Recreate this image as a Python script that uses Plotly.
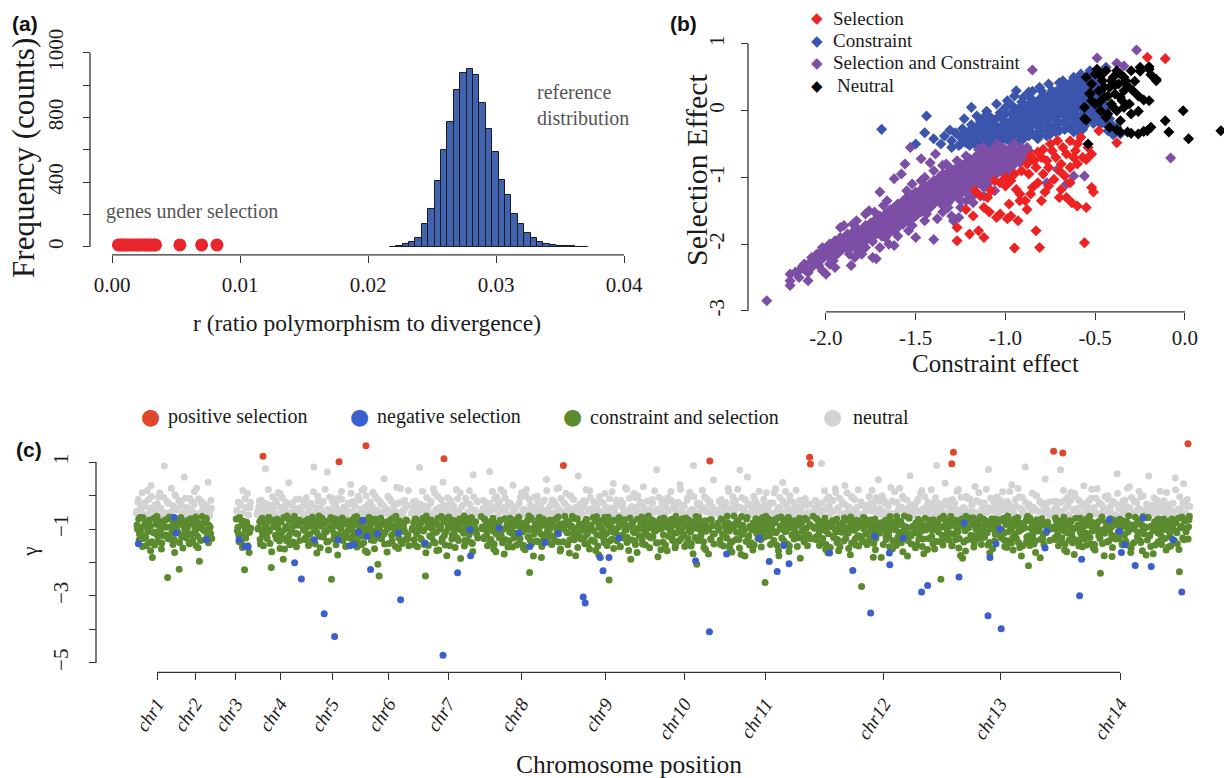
import plotly.graph_objects as go

W, H = 1224, 778
# positions below are given in target pixels; the vertical mapping compensates the
# small vertical offset/scale observed in the rendered page
def fx(p): return p / W
def fy(p): return 1 - ((p - 11) / 0.98) / H

SERIF = "Liberation Serif"
SANS = "Liberation Sans"

# ---------------- Panel (a) data ----------------
bin_left = [0.0217, 0.0222, 0.0227, 0.0232, 0.0237, 0.0242, 0.0247, 0.0252, 0.0257, 0.0262,
            0.0267, 0.0272, 0.0277, 0.0282, 0.0287, 0.0292, 0.0297, 0.0302, 0.0307, 0.0312,
            0.0317, 0.0322, 0.0327, 0.0332, 0.0337, 0.0342, 0.0347, 0.0352, 0.0357, 0.0362, 0.0367]
bin_counts = [2, 3, 18, 29, 56, 140, 237, 406, 597, 775, 968, 1079, 1100, 1065, 890, 731, 585,
              412, 321, 206, 140, 89, 52, 33, 19, 12, 7, 4, 3, 2, 1]
bin_width = 0.0005
sel_r = [0.0005, 0.0007, 0.0008, 0.0010, 0.0012, 0.0013, 0.0015, 0.0017, 0.0019, 0.0020, 0.0022,
         0.0024, 0.0026, 0.0027, 0.0029, 0.0031, 0.0033, 0.0034, 0.0053, 0.0070, 0.0082]
sel_freq = [12] * len(sel_r)
a_xticks = [0, 0.01, 0.02, 0.03, 0.04]
a_xtext = ["0.00", "0.01", "0.02", "0.03", "0.04"]
a_yticks = [0, 200, 400, 600, 800, 1000, 1200]
a_ytext = ["0", "", "400", "", "800", "", "1000"]

# ---------------- Panel (b) data ----------------
pts_selection = [(-0.21, 0.80), (-0.11, 0.78), (-0.38, -0.48), (-0.48, -0.30), (-0.52, -0.65), (-0.55, -0.73),
    (-0.52, -1.15), (-0.51, -1.22), (-0.55, -1.45), (-0.60, -1.43), (-0.63, -1.38), (-0.66, -1.30), (-0.70, -1.30),
    (-0.56, -1.98), (-0.81, -2.05), (-0.95, -2.06), (-0.83, -1.80), (-0.93, -1.65), (-0.97, -1.58), (-1.03, -1.55),
    (-1.05, -1.60), (-1.12, -1.90), (-1.15, -1.80), (-1.20, -1.85), (-1.27, -1.95), (-1.27, -1.75), (-1.18, -1.58),
    (-1.12, -1.45), (-1.22, -1.48), (-1.17, -1.20), (-1.14, -1.28), (-1.10, -1.30), (-1.08, -1.20), (-1.03, -1.08),
    (-1.00, -1.13), (-0.97, -1.05), (-0.94, -1.18), (-0.92, -1.25), (-0.89, -1.35), (-0.88, -1.48), (-0.92, -1.35),
    (-0.85, -1.15), (-0.82, -1.08), (-0.79, -0.95), (-0.76, -0.85), (-0.91, -0.90), (-0.88, -0.80), (-0.84, -0.75),
    (-0.80, -0.70), (-0.74, -0.60), (-0.72, -0.70), (-0.70, -0.90), (-0.67, -0.98), (-0.64, -1.08), (-0.73, -1.03),
    (-0.76, -1.13), (-0.80, -1.35), (-0.68, -0.55), (-0.64, -0.45), (-0.60, -0.50), (-0.58, -0.40), (-0.66, -0.65),
    (-0.62, -0.70), (-0.60, -0.80), (-0.57, -0.70), (-0.71, -0.45), (-0.75, -0.50), (-0.79, -0.58), (-0.83, -0.85),
    (-1.00, -1.00), (-1.06, -1.05), (-0.87, -0.95), (-0.64, -0.85), (-0.95, -0.95), (-0.86, -1.25), (-0.78, -1.22),
    (-0.69, -1.18), (-0.98, -1.40), (-1.09, -1.52), (-0.99, -1.62), (-0.61, -0.60), (-0.69, -0.80), (-0.54, -0.55),
    (-0.82, -0.62), (-0.77, -0.75), (-0.86, -0.68)]

pts_constraint = [(-1.69, -0.28), (-1.44, -0.08), (-1.40, -0.42), (-1.31, -0.29), (-1.19, 0.05), (-1.105, -0.01),
    (-0.94, 0.30), (-0.85, 0.29), (-0.53, 0.60), (-0.44, 0.65), (-0.38, -0.25), (-0.70, 0.42), (-0.62, 0.50),
    (-1.30, -0.45), (-1.30, -0.55), (-1.25, -0.40), (-1.25, -0.50), (-1.22, -0.35), (-1.22, -0.48),
    (-1.20, -0.30), (-1.20, -0.42), (-1.20, -0.52), (-1.17, -0.28), (-1.17, -0.40), (-1.17, -0.50),
    (-1.15, -0.22), (-1.15, -0.35), (-1.15, -0.47), (-1.12, -0.20), (-1.12, -0.32), (-1.12, -0.44), (-1.12, -0.10),
    (-1.10, -0.18), (-1.10, -0.30), (-1.10, -0.42), (-1.10, -0.52), (-1.07, -0.15), (-1.07, -0.27), (-1.07, -0.38),
    (-1.07, -0.50), (-1.05, -0.12), (-1.05, -0.24), (-1.05, -0.35), (-1.05, -0.46), (-1.02, -0.10), (-1.02, -0.22),
    (-1.02, -0.32), (-1.02, -0.44), (-1.00, -0.05), (-1.00, -0.18), (-1.00, -0.30), (-1.00, -0.42), (-1.00, 0.05),
    (-0.97, -0.04), (-0.97, -0.15), (-0.97, -0.27), (-0.97, -0.38), (-0.97, -0.48), (-0.95, 0.00), (-0.95, -0.12),
    (-0.95, -0.24), (-0.95, -0.35), (-0.95, -0.46), (-0.92, 0.05), (-0.92, -0.08), (-0.92, -0.20), (-0.92, -0.32),
    (-0.92, -0.44), (-0.90, 0.08), (-0.90, -0.05), (-0.90, -0.17), (-0.90, -0.30), (-0.90, -0.42), (-0.90, 0.20),
    (-0.87, 0.10), (-0.87, -0.02), (-0.87, -0.14), (-0.87, -0.26), (-0.87, -0.38), (-0.85, 0.14), (-0.85, 0.02),
    (-0.85, -0.10), (-0.85, -0.22), (-0.85, -0.35), (-0.82, 0.15), (-0.82, 0.04), (-0.82, -0.08), (-0.82, -0.20),
    (-0.82, -0.32), (-0.82, -0.42), (-0.80, 0.18), (-0.80, 0.06), (-0.80, -0.05), (-0.80, -0.17), (-0.80, -0.29),
    (-0.80, 0.30), (-0.77, 0.20), (-0.77, 0.08), (-0.77, -0.03), (-0.77, -0.15), (-0.77, -0.27), (-0.77, -0.38),
    (-0.75, 0.25), (-0.75, 0.12), (-0.75, 0.00), (-0.75, -0.12), (-0.75, -0.24), (-0.75, -0.35), (-0.72, 0.28),
    (-0.72, 0.15), (-0.72, 0.03), (-0.72, -0.09), (-0.72, -0.21), (-0.72, -0.32), (-0.70, 0.30), (-0.70, 0.18),
    (-0.70, 0.06), (-0.70, -0.06), (-0.70, -0.18), (-0.70, -0.30), (-0.67, 0.32), (-0.67, 0.20), (-0.67, 0.08),
    (-0.67, -0.04), (-0.67, -0.16), (-0.67, -0.28), (-0.65, 0.35), (-0.65, 0.23), (-0.65, 0.11), (-0.65, -0.01),
    (-0.65, -0.13), (-0.65, -0.25), (-0.62, 0.38), (-0.62, 0.26), (-0.62, 0.14), (-0.62, 0.02), (-0.62, -0.10),
    (-0.62, -0.22), (-0.62, -0.32), (-0.60, 0.40), (-0.60, 0.28), (-0.60, 0.16), (-0.60, 0.04), (-0.60, -0.08),
    (-0.60, -0.20), (-0.60, -0.30), (-0.57, 0.42), (-0.57, 0.30), (-0.57, 0.18), (-0.57, 0.06), (-0.57, -0.06),
    (-0.57, -0.18), (-0.57, -0.28), (-0.55, 0.45), (-0.55, 0.32), (-0.55, 0.20), (-0.55, 0.08), (-0.55, -0.04),
    (-0.55, -0.16), (-0.52, 0.48), (-0.52, 0.35), (-0.52, 0.22), (-0.52, 0.10), (-0.52, -0.02), (-0.52, -0.14),
    (-0.50, 0.40), (-0.50, 0.25), (-0.50, 0.12), (-0.50, 0.00), (-0.50, -0.12), (-0.47, 0.30), (-0.47, 0.15),
    (-0.47, 0.02), (-0.47, -0.10), (-0.47, -0.20), (-0.45, 0.10), (-0.45, -0.05), (-0.45, -0.18), (-0.42, -0.12),
    (-0.42, -0.22), (-0.40, -0.28), (-0.40, -0.36),
    (-1.28, -0.33), (-1.26, -0.52), (-1.24, -0.27), (-1.21, -0.44), (-1.19, -0.21), (-1.18, -0.37), (-1.16, -0.49),
    (-1.14, -0.16), (-1.13, -0.27), (-1.11, -0.39), (-1.09, -0.08), (-1.08, -0.22), (-1.06, -0.33), (-1.04, -0.43),
    (-1.03, -0.03), (-1.01, -0.14), (-0.99, -0.26), (-0.98, -0.37), (-0.96, 0.07), (-0.96, -0.45), (-0.94, -0.07),
    (-0.93, -0.18), (-0.93, -0.29), (-0.91, -0.39), (-0.91, 0.13), (-0.89, 0.02), (-0.88, -0.10), (-0.88, -0.21),
    (-0.86, -0.33), (-0.86, 0.19), (-0.84, 0.07), (-0.83, -0.04), (-0.83, -0.15), (-0.81, -0.26), (-0.81, -0.37),
    (-0.79, 0.23), (-0.79, 0.11), (-0.78, 0.00), (-0.78, -0.11), (-0.76, -0.22), (-0.76, -0.31), (-0.74, 0.30),
    (-0.74, 0.18), (-0.73, 0.06), (-0.73, -0.05), (-0.71, -0.16), (-0.71, -0.27), (-0.69, 0.36), (-0.69, 0.24),
    (-0.68, 0.12), (-0.68, 0.00), (-0.66, -0.10), (-0.66, -0.22), (-0.64, 0.41), (-0.64, 0.29), (-0.63, 0.17),
    (-0.63, 0.06), (-0.61, -0.05), (-0.61, -0.16), (-0.61, -0.27), (-0.59, 0.45), (-0.59, 0.33), (-0.58, 0.22),
    (-0.58, 0.10), (-0.56, -0.01), (-0.56, -0.12), (-0.56, -0.23), (-0.54, 0.39), (-0.54, 0.27), (-0.53, 0.15),
    (-0.53, 0.03), (-0.51, -0.08), (-0.51, -0.19), (-0.49, 0.33), (-0.49, 0.19), (-0.48, 0.06), (-0.48, -0.05),
    (-0.46, -0.15), (-0.46, 0.24), (-0.44, 0.02), (-0.43, -0.17), (-0.41, -0.20), (-0.39, -0.31), (-1.34, -0.38),
    (-1.36, -0.50), (-1.23, -0.12), (-1.05, 0.10), (-0.99, 0.15), (-0.87, 0.28), (-0.76, 0.40), (-0.68, 0.45),
    (-0.58, 0.55), (-0.50, 0.52), (-0.47, 0.45), (-0.41, 0.38), (-0.43, -0.30), (-0.36, -0.35), (-1.50, -0.50),
    (-1.16, -0.08), (-1.45, -0.33), (-0.81, 0.35), (-0.95, 0.22)]

pts_sel_con = [(-2.33, -2.85), (-0.85, 0.61), (-0.49, 0.79), (-0.27, 0.91), (-0.38, 0.71), (-0.34, 0.67),
    (-0.08, -0.71), (-0.56, -0.98), (-0.62, -0.98), (-0.77, -1.08), (-0.66, -1.10), (-0.71, -0.88),
    (-1.40, -1.93), (-1.53, -0.55), (-1.54, -1.80), (-1.74, -2.20), (-1.83, -1.65), (-1.76, -1.50),
    (-1.58, -0.95), (-1.39, -0.65), (-1.26, -1.60), (-1.29, -1.65),
    (-2.20, -2.45), (-2.20, -2.55), (-2.20, -2.62), (-2.15, -2.40), (-2.15, -2.50), (-2.12, -2.38), (-2.12, -2.30),
    (-2.08, -2.25), (-2.08, -2.35), (-2.08, -2.20), (-2.05, -2.15), (-2.05, -2.28), (-2.02, -2.10), (-2.02, -2.22),
    (-2.02, -2.05), (-1.98, -2.00), (-1.98, -2.12), (-1.98, -2.30), (-1.95, -1.95), (-1.95, -2.05), (-1.95, -2.18),
    (-1.92, -1.90), (-1.92, -2.02), (-1.92, -2.10), (-1.88, -1.85), (-1.88, -1.98), (-1.88, -2.08), (-1.85, -1.82),
    (-1.85, -1.92), (-1.85, -2.02), (-1.85, -1.70), (-1.82, -1.78), (-1.82, -1.88), (-1.82, -1.98), (-1.78, -1.72),
    (-1.78, -1.85), (-1.78, -1.95), (-1.78, -2.05), (-1.75, -1.68), (-1.75, -1.80), (-1.75, -1.90), (-1.72, -1.62),
    (-1.72, -1.75), (-1.72, -1.85), (-1.72, -2.22), (-1.70, -1.58), (-1.70, -1.70), (-1.70, -1.82), (-1.67, -1.55),
    (-1.67, -1.65), (-1.67, -1.78), (-1.67, -1.90), (-1.64, -1.48), (-1.64, -1.60), (-1.64, -1.72), (-1.62, -1.45),
    (-1.62, -1.55), (-1.62, -1.68), (-1.62, -1.80), (-1.60, -1.40), (-1.60, -1.52), (-1.60, -1.62), (-1.60, -1.75),
    (-1.57, -1.35), (-1.57, -1.48), (-1.57, -1.58), (-1.57, -1.70), (-1.55, -1.30), (-1.55, -1.42), (-1.55, -1.55),
    (-1.55, -1.65), (-1.52, -1.28), (-1.52, -1.38), (-1.52, -1.50), (-1.52, -1.62), (-1.52, -1.10), (-1.50, -1.22),
    (-1.50, -1.35), (-1.50, -1.45), (-1.50, -1.58), (-1.47, -1.18), (-1.47, -1.30), (-1.47, -1.42), (-1.47, -1.52),
    (-1.45, -1.12), (-1.45, -1.25), (-1.45, -1.38), (-1.45, -1.50), (-1.45, -1.00), (-1.42, -1.10), (-1.42, -1.20),
    (-1.42, -1.32), (-1.42, -1.45), (-1.40, -1.05), (-1.40, -1.15), (-1.40, -1.28), (-1.40, -1.40), (-1.40, -0.90),
    (-1.37, -1.00), (-1.37, -1.12), (-1.37, -1.22), (-1.37, -1.35), (-1.35, -0.95), (-1.35, -1.08), (-1.35, -1.18),
    (-1.35, -1.30), (-1.35, -1.42), (-1.32, -0.92), (-1.32, -1.02), (-1.32, -1.15), (-1.32, -1.25), (-1.32, -1.38),
    (-1.30, -0.88), (-1.30, -0.98), (-1.30, -1.10), (-1.30, -1.20), (-1.30, -1.32), (-1.27, -0.85), (-1.27, -0.95),
    (-1.27, -1.05), (-1.27, -1.15), (-1.27, -1.28), (-1.27, -0.75), (-1.25, -0.80), (-1.25, -0.92), (-1.25, -1.02),
    (-1.25, -1.12), (-1.25, -1.25), (-1.22, -0.78), (-1.22, -0.88), (-1.22, -0.98), (-1.22, -1.08), (-1.22, -1.20),
    (-1.22, -1.35), (-1.20, -0.72), (-1.20, -0.82), (-1.20, -0.95), (-1.20, -1.05), (-1.20, -1.15), (-1.17, -0.70),
    (-1.17, -0.80), (-1.17, -0.90), (-1.17, -1.00), (-1.17, -1.12), (-1.17, -1.25), (-1.15, -0.65), (-1.15, -0.76),
    (-1.15, -0.86), (-1.15, -0.96), (-1.15, -1.08), (-1.12, -0.62), (-1.12, -0.72), (-1.12, -0.82), (-1.12, -0.92),
    (-1.12, -1.02), (-1.12, -1.15), (-1.10, -0.60), (-1.10, -0.70), (-1.10, -0.80), (-1.10, -0.90), (-1.10, -1.00),
    (-1.07, -0.58), (-1.07, -0.68), (-1.07, -0.78), (-1.07, -0.88), (-1.07, -0.98), (-1.05, -0.55), (-1.05, -0.65),
    (-1.05, -0.75), (-1.05, -0.85), (-1.05, -0.95), (-1.02, -0.55), (-1.02, -0.64), (-1.02, -0.72), (-1.02, -0.82),
    (-1.02, -0.92), (-1.00, -0.58), (-1.00, -0.68), (-1.00, -0.78), (-1.00, -0.88), (-0.97, -0.56), (-0.97, -0.66),
    (-0.97, -0.75), (-0.97, -0.85), (-0.95, -0.60), (-0.95, -0.70), (-0.95, -0.80), (-0.92, -0.58), (-0.92, -0.68),
    (-0.92, -0.78), (-0.90, -0.62), (-0.90, -0.72), (-0.87, -0.60), (-0.87, -0.70),
    (-2.17, -2.42), (-2.13, -2.33), (-2.10, -2.43), (-2.06, -2.18), (-2.04, -2.32), (-2.00, -2.06), (-1.99, -2.18),
    (-1.96, -2.25), (-1.94, -1.99), (-1.93, -2.13), (-1.90, -1.93), (-1.89, -2.04), (-1.87, -2.15), (-1.86, -1.88),
    (-1.84, -1.97), (-1.83, -2.08), (-1.80, -1.80), (-1.80, -1.93), (-1.79, -2.02), (-1.77, -1.76), (-1.76, -1.86),
    (-1.74, -1.96), (-1.73, -1.69), (-1.71, -1.79), (-1.69, -1.64), (-1.69, -1.88), (-1.68, -1.73), (-1.66, -1.59),
    (-1.65, -1.84), (-1.63, -1.52), (-1.63, -1.66), (-1.61, -1.77), (-1.59, -1.47), (-1.58, -1.57), (-1.58, -1.66),
    (-1.56, -1.38), (-1.56, -1.51), (-1.54, -1.61), (-1.53, -1.33), (-1.53, -1.45), (-1.51, -1.55), (-1.49, -1.28),
    (-1.49, -1.40), (-1.48, -1.50), (-1.46, -1.23), (-1.46, -1.34), (-1.44, -1.45), (-1.43, -1.16), (-1.43, -1.28),
    (-1.41, -1.38), (-1.39, -1.10), (-1.39, -1.22), (-1.38, -1.33), (-1.36, -1.04), (-1.36, -1.16), (-1.34, -1.27),
    (-1.33, -0.97), (-1.33, -1.09), (-1.31, -1.20), (-1.29, -0.93), (-1.29, -1.04), (-1.28, -1.14), (-1.26, -0.88),
    (-1.26, -0.99), (-1.24, -1.09), (-1.23, -0.83), (-1.23, -0.93), (-1.21, -1.03), (-1.19, -0.77), (-1.19, -0.88),
    (-1.18, -0.98), (-1.16, -0.72), (-1.16, -0.82), (-1.14, -0.92), (-1.13, -0.67), (-1.13, -0.77), (-1.11, -0.87),
    (-1.09, -0.64), (-1.09, -0.75), (-1.08, -0.85), (-1.06, -0.61), (-1.06, -0.71), (-1.04, -0.80), (-1.03, -0.59),
    (-1.03, -0.68), (-1.01, -0.76), (-0.99, -0.62), (-0.98, -0.71), (-0.96, -0.58), (-0.96, -0.66), (-0.94, -0.74),
    (-0.93, -0.62), (-0.91, -0.56), (-0.89, -0.66), (-0.88, -0.55), (-1.25, -1.35), (-1.32, -1.45), (-1.45, -1.65),
    (-1.60, -1.88), (-1.66, -1.35), (-1.47, -1.05), (-1.35, -0.82), (-1.20, -1.28), (-1.10, -1.10), (-0.98, -0.92),
    (-1.70, -2.05), (-1.84, -2.20), (-2.02, -2.40), (-1.92, -1.75), (-1.12, -0.55), (-1.05, -0.50), (-0.95, -0.50),
    (-1.62, -1.02), (-1.70, -1.22), (-1.47, -0.72), (-1.56, -0.80), (-1.42, -0.78), (-1.38, -1.62), (-1.30, -1.58),
    (-1.50, -1.90), (-1.62, -2.02), (-1.86, -2.32), (-2.00, -2.45), (-1.78, -1.55), (-1.68, -1.42), (-1.52, -1.72),
    (-1.44, -1.55), (-1.35, -1.52), (-1.25, -1.45), (-1.18, -1.38), (-1.12, -1.28), (-1.06, -1.20), (-1.65, -2.00),
    (-1.80, -2.15), (-1.95, -2.35), (-2.10, -2.55), (-1.90, -1.72), (-1.73, -1.52), (-1.55, -1.20), (-1.33, -0.80),
    (-1.22, -0.68), (-1.15, -0.58)]

pts_neutral = [(-0.55, 0.50), (-0.52, 0.40), (-0.50, 0.55), (-0.48, 0.30), (-0.46, 0.45), (-0.45, 0.20),
    (-0.44, 0.60), (-0.42, 0.35), (-0.41, 0.10), (-0.40, 0.50), (-0.39, 0.25), (-0.38, 0.00), (-0.37, 0.40),
    (-0.36, 0.55), (-0.35, 0.15), (-0.34, 0.30), (-0.50, 0.10), (-0.47, 0.00), (-0.53, 0.25), (-0.56, 0.05),
    (-0.43, -0.05), (-0.38, 0.60), (-0.33, 0.45), (-0.31, 0.10), (-0.29, 0.30), (-0.45, 0.35), (-0.49, 0.62),
    (-0.41, 0.45), (-0.36, 0.20), (-0.52, 0.15), (-0.30, 0.60), (-0.25, 0.65), (-0.20, 0.62), (-0.16, 0.45),
    (-0.20, 0.15), (-0.26, 0.22), (-0.32, 0.37), (-0.34, 0.05), (-0.36, -0.15), (-0.32, -0.32), (-0.26, -0.35),
    (-0.21, -0.30), (-0.19, -0.25), (-0.36, -0.32), (-0.01, 0.00), (-0.11, -0.15), (-0.09, -0.32), (0.02, -0.42),
    (0.20, -0.30), (-0.44, -0.10), (-0.56, -0.12), (-0.54, -0.50), (-0.42, -0.25), (-0.30, -0.05), (-0.19, 0.54),
    (-0.16, 0.47), (-0.20, 0.66), (-0.25, 0.59), (-0.23, 0.16), (-0.26, -0.01), (-0.38, -0.29), (-0.30, -0.34),
    (-0.23, -0.31), (-0.55, -0.14), (-0.53, 0.26), (-0.47, 0.52), (-0.43, 0.22), (-0.40, 0.05), (-0.39, 0.38),
    (-0.34, 0.50), (-0.28, 0.44), (-0.48, 0.12)]
b_xticks = [-2.0, -1.5, -1.0, -0.5, 0.0]
b_xtext = ["-2.0", "-1.5", "-1.0", "-0.5", "0.0"]
b_yticks = [-3, -2, -1, 0, 1]
b_ytext = ["-3", "-2", "-1", "0", "1"]

# ---------------- Panel (c) data ----------------
chr_names = ["chr1", "chr2", "chr3", "chr4", "chr5", "chr6", "chr7", "chr8", "chr9", "chr10",
             "chr11", "chr12", "chr13", "chr14"]
chr_pos = [0, 190, 393, 615, 875, 1158, 1455, 1822, 2243, 2636, 3043, 3633, 4215, 4815]
seg_bounds = [(-105, 275), (395, 470), (500, 715), (725, 1260), (1270, 1605),
              (1620, 2790), (2800, 3270), (3280, 4465), (4475, 5165)]
# gamma x100 per gene, two interleaved gene sets (a/b) per genome segment
seg1a = [-52, -88, -20, -70, -115, -41, -97, 8, -66, -128, -33, -81, -150, -57, -104, -12, -74, -92, 30, -138,
         -46, -68, -109, -27, -85, -62, -121, -5, -77, -99, -38, -142, -54, -90, 88, -73, -118, -60, -245, -23,
         -64, -94, -49, -112, -30, -79, -131, 2, -70, -101, -43, -87, -220, -16, -66, -124, -56, -83, 55, -108,
         -36, -75, -96, -58, -140, -9, -69, -117, -47, -86, -26, -103, -64, 22, -79, -156, -53, -92, -134, -18,
         -63, -83, -44, -106, -31, -72, -127, 40, -89, -60, -113, -39]
seg1b = [-47, -100, -12, -133, -66, -30, -116, -152, -56, -90, -21, -125, -78, 15, -108, -142, -38, -165, -3, -185,
         -35, -112, -148, -44, -86, -25, -137, -82, 8, -104, -160, -58, -120, -6, -92, -52, -95, -18, -128, -70,
         -130, -69, 22, -102, -146, -33, -170, -1, -88, -41, -110, -15, -140, -74, -28, -119, -157, -50, -96, -8,
         -126, -80, -37, -114, -144, -45, -84, -17, -136, -72, 12, -106, -150, -60, -122, -10, -196, -55, -98, -23,
         -39, -103, -26, -132, -68, -31, -118, -141, -53, -94, -14, -128]
seg2a = [-70, -48, -95, -118, -66, -25, -140, -85, 15, -77, -222, -102, -36, -88, -150, -58, -110, -20]
seg2b = [-44, -105, -20, -138, -71, -30, -118, -155, -52, -92, -9, -127, -80, 6, -110, -170, -36, -98]
seg3a = [-57, -100, -35, -78, -145, -14, -68, -110, -48, -94, 80, -84, -129, -42, -65, -102, -29, -215, -59, -74,
         -40, -88, -119, -21, -71, -97, -55, -136, 5, -80, -108, -45, -66, -160, -34, -93, -61, -126, 38, -76,
         -50, -107, -28, -69, -90, -62, -148, -11, -82, -115, -38, -73]
seg3b = [-49, -97, -16, -131, -73, -33, -115, -150, -55, -88, -24, -123, -79, 18, -107, -143, -40, -168, -4, -93,
         -58, -85, -13, -129, -76, 9, -111, -158, -35, -124, -7, -190, -46, -101, -19, -135, -67, -27, -120, -147,
         -51, -96, -22, -139, -70, -42, -113, -153, -48, -89, -11, -134]
seg4a = [-33, -79, -104, -59, -132, -6, -95, -71, -47, -116, -25, -84, -64, -141, 85, -98, -54, -76, -112, -17,
         -61, -92, -37, -123, -68, -19, -86, -105, -50, -77, 70, -137, -42, -96, -66, -250, -8, -81, -113, -30,
         -55, -90, -15, -72, -118, -44, -99, 12, -67, -130, -36, -85, -152, -58, -107, -22, -76, -94, 33, -125,
         -48, -70, -111, -31, -88, -63, -139, -3, -80, -101, -41, -147, -56, -93, 20, -74, -121, -59, -170, -26,
         -65, -97, -46, -114, -34, -83, -134, 0, -71, -103, -45, -89, -240, -18, -68, -127, -53, -86, 50, -110,
         -39, -78, -99, -57, -143, -11, -72, -119, -49, -91, -28, -106, -62, 25, -82, -158, -51, -95, -136, -20,
         -60, -87, -43, -109, -32, -75, -130, 15]
seg4b = [-54, -99, -15, -127, -75, -32, -117, -149, -43, -91, -23, -136, -81, 11, -105, -144, -37, -172, -2, -87,
         -121, -156, -57, -84, -16, -124, -77, 19, -109, -139, -41, -163, -5, -95, -48, -102, -20, -130, -69, -29,
         -147, -39, -178, -8, -90, -52, -93, -11, -134, -72, -34, -114, -151, -46, -86, -26, -127, -83, 7, -103,
         -18, -138, -66, -31, -119, -154, -55, -89, -13, -122, -74, 16, -111, -141, -36, -166, -1, -97, -44, -106,
         -85, -19, -133, -71, 10, -107, -159, -59, -125, -9, -205, -50, -100, -24, -129, -79, -28, -116, -145, -42,
         -40, -169, -3, -92, -47, -94, -17, -135, -68, -35, -112, -152, -53, -88, -22, -126, -76, 21, -104, -143,
         -45, -98, -14, -131, -73, -30, -118, -150]
seg5a = [-54, -102, -37, -80, -147, -16, -70, -112, -50, -96, 84, -86, -131, -44, -67, -104, -31, -240, -61, -76,
         -42, -90, -121, -23, -73, -99, -57, -138, 7, -82, -110, -47, -68, -163, -36, -95, -63, -128, 40, -78,
         -52, -109, -30, -71, -92, -64, -150, -13, -84, -117, -40, -75, -101, -58, 17, -127, -89, -46, -69, -188,
         -35, -81, -106, -61, -134, -8, -97, -73, -49, -118, -27, -86, -66, -143, 62, -100, -56, -78, -114, -19]
seg5b = [-51, -97, -19, -132, -70, -33, -114, -153, -45, -90, -25, -128, -79, 13, -106, -146, -38, -171, -6, -94,
         -149, -56, -86, -17, -125, -82, 20, -110, -142, -42, -164, -2, -89, -49, -101, -12, -137, -67, -28, -120,
         -148, -36, -180, -7, -98, -53, -95, -22, -130, -74, -31, -116, -155, -47, -87, -10, -134, -72, 8, -103,
         -77, -29, -113, -151, -58, -91, -21, -136, -69, 14, -108, -140, -40, -167, -4, -93, -44, -104, -16, -127]
seg6a = [-63, -94, -39, -125, -70, -21, -88, -107, -52, -79, 72, -139, -44, -98, -68, -160, -10, -83, -115, -32,
         -57, -92, -17, -74, -120, -46, -101, 10, -69, -132, -38, -87, -154, -60, -109, -24, -78, -96, 31, -127,
         -50, -72, -113, -33, -90, -65, -141, -5, -82, -103, -43, -149, -58, -95, 18, -76, -123, -61, -230, -28,
         -67, -99, -48, -116, -36, -85, -136, -2, -73, -105, -47, -91, -185, -20, -70, -129, -55, -88, 48, -112,
         -41, -80, -101, -59, -145, -13, -74, -121, -51, -93, -30, -108, -64, 23, -84, -160, -53, -97, -138, -22,
         -62, -89, -45, -111, -34, -77, -132, -1, -91, -62, -115, -41, -100, -180, -53, -69, 58, -122, -26, -93,
         -56, -104, -35, -83, -144, -18, -71, -114, -48, -98, 14, -88, -133, -42, -66, -106, -29, -164, -63, -79,
         -44, -93, -119, -21, -75, -102, -55, -140, 6, -80, -112, -49, -65, -252, -37, -97, -60, -130, 36, -74,
         -54, -111, -27, -73, -95, -66, -152, -15, -86, -119, -39, -77, -103, -57, 19, -125, -91, -45, -67, -190,
         -33, -83, -108, -59, -136, -7, -99, -71, -51, -120, -25, -88, -64, -145, 26, -102, -58, -80, -116, -17,
         -61, -96, -41, -127, -72, -23, -90, -105, -50, -81, 77, -141, -46, -100, -70, -162, -12, -85, -117, -34,
         -59, -94, -19, -76, -122, -44, -103, 12, -71, -134, -36, -89, -156, -62, -111, -26, -80, -98, 33, -129,
         -48, -74, -115, -31, -92, -67, -143, -7, -84, -105, -45, -151, -56, -97, 90, -78, -125, -63, -205, -30,
         -65, -101, -50, -118, -34, -87, -138, -4, -75, -107, -49, -93, -175, -22, -72, -131, -57, -90, 46, -114]
seg6b = [-50, -99, -14, -129, -72, -32, -117, -150, -46, -88, -24, -131, -80, 12, -107, -145, -39, -168, -3, -91,
         -17, -126, -75, 18, -104, -141, -36, -175, -7, -97, -55, -94, -20, -136, -68, -27, -112, -154, -43, -85,
         -34, -119, -148, -57, -90, -22, -128, -83, 9, -109, -157, -41, -162, -1, -93, -48, -102, -11, -133, -71,
         -143, -38, -181, -5, -89, -52, -96, -16, -138, -65, -29, -115, -152, -44, -87, -13, -124, -78, 15, -102,
         -127, -74, -31, -121, -146, -54, -92, -19, -135, -70, 20, -106, -139, -42, -166, -9, -98, -47, -100, -23,
         -81, 7, -110, -147, -37, -172, -2, -94, -53, -95, -12, -132, -69, -35, -113, -155, -45, -86, -26, -130,
         -56, -89, -15, -125, -77, 17, -105, -144, -40, -160, -6, -90, -49, -103, -18, -137, -73, -28, -118, -151,
         -177, -4, -96, -51, -97, -21, -128, -66, -33, -114, -149, -42, -91, -10, -134, -82, 11, -108, -158, -39,
         -101, -13, -135, -75, -30, -120, -153, -58, -84, -23, -127, -72, 23, -103, -140, -43, -164, -8, -92, -46,
         -133, -79, 6, -111, -146, -35, -170, -1, -99, -54, -93, -19, -131, -70, -36, -116, -147, -47, -88, -16,
         -122, -156, -53, -90, -12, -123, -76, 14, -106, -142, -41, -183, -5, -95, -50, -98, -25, -139, -67, -27,
         -148, -38, -165, -7, -91, -45, -104, -15, -129, -73, -32, -113, -150, -44, -86, -20, -136, -80, 19, -104,
         -69, -29, -119, -152, -55, -92, -14, -128, -74, 10, -109, -143, -42, -174, -3, -97, -52, -96, -22, -134,
         -87, -24, -132, -78, 16, -102, -155, -37, -161, -9, -93, -48, -100, -17, -130, -72, -34, -115, -145, -49]
seg7a = [-44, -82, -103, -57, -146, -12, -73, -118, -49, -92, -28, -107, -62, 21, -86, -157, -52, -96, -137, -21,
         -61, -89, -43, -110, -33, -76, -131, 76, -90, -63, -116, -40, -101, -181, -52, -70, 55, -123, -25, -92,
         -58, -103, -36, -81, -148, -15, -69, -113, -51, -97, 13, -85, -132, -43, -66, -105, -30, -260, -62, -77,
         -43, -91, -120, -22, -74, -100, -56, -139, 8, -81, -111, -48, -67, -165, -35, -96, -64, -127, 39, -79,
         -51, -108, -29, -70, -93, -65, -151, -14, -85, -118, -41, -76, -102, -59, 16, -126, -88, -47, -68, -187,
         -34, -80, -107, -60, -135, -9, -98, -72, -50, -117, -26, -87]
seg7b = [-53, -97, -18, -133, -70, -31, -116, -151, -44, -90, -21, -127, -81, 13, -106, -144, -40, -169, -4, -94,
         -86, -15, -131, -75, 19, -110, -157, -36, -176, -7, -89, -47, -102, -12, -137, -66, -28, -121, -148, -56,
         -141, -43, -163, -2, -98, -50, -95, -24, -128, -73, -35, -114, -154, -45, -92, -11, -124, -79, 8, -103,
         -69, -30, -118, -146, -52, -85, -22, -134, -72, 21, -108, -149, -38, -180, -6, -91, -55, -101, -16, -135,
         -83, 12, -105, -145, -41, -167, -1, -95, -46, -96, -20, -130, -76, -33, -112, -152, -48, -88, -14, -126,
         -51, -99, -17, -138, -68, -29, -119, -150, -57, -91, -25, -129]
seg8a = [-62, -95, -38, -124, -69, -20, -87, -106, -53, -78, 96, -138, -45, -97, -67, -161, -11, -82, -114, -31,
         -56, -93, -16, -75, -121, -47, -100, 9, -70, -131, -37, -88, -153, -59, -110, -23, -79, -95, 30, -128,
         -51, -73, -112, -34, -91, -64, -142, -6, -81, -104, -42, -148, -57, -96, 17, -77, -122, -60, -272, -29,
         -66, -100, -49, -115, -37, -84, -137, -3, -74, -104, -46, -92, -184, -19, -71, -128, -56, -87, 47, -113,
         -40, -81, -100, -58, -146, -14, -75, -120, -52, -92, -31, -107, -63, 24, -85, -159, -54, -96, -139, -21,
         -63, -88, -44, -112, -35, -78, -133, -2, -90, -61, -116, -42, -99, -181, -54, -68, 59, -121, -27, -94,
         -57, -103, -36, -81, -146, -17, -71, -113, -49, -97, 15, -87, -130, -45, -68, -103, -32, -161, -60, -75,
         -43, -89, -122, -24, -72, -98, -58, -137, 90, -83, -109, -46, -69, -250, -37, -94, -62, -129, 37, -77,
         -53, -110, -31, -72, -91, -63, -149, -12, -83, -116, -41, -74, -100, -57, 18, -128, -88, -45, -70, -187,
         -36, -82, -105, -62, -133, -9, -96, -74, -48, -119, -28, -85, -67, -142, 27, -101, -55, -79, -113, -20,
         -64, -93, -40, -126, -71, -22, -89, -108, -51, -80, 78, -140, -43, -99, -69, -159, -9, -84, -116, -33,
         -58, -91, -18, -73, -119, -45, -102, 11, -68, -133, -39, -86, -155, -61, -108, -25, -77, -97, 32, -126,
         -49, -71, -114, -32, -89, -66, -140, -4, -83, -102, -44, -150, -59, -94, 85, -75, -124, -62, -210, -27,
         -68, -98, -47, -117, -35, -86, -135, -1, -72, -106, -48, -90, -186, -21, -69, -130, -54, -89, 49, -111,
         -42, -79, -102, -58]
seg8b = [-49, -98, -15, -132, -71, -33, -118, -149, -47, -89, -22, -128, -80, 14, -105, -146, -39, -171, -4, -92,
         -155, -44, -86, -14, -125, -76, 20, -109, -140, -37, -165, -8, -97, -54, -95, -21, -136, -67, -28, -113,
         8, -104, -158, -42, -177, -2, -90, -47, -101, -12, -129, -74, -35, -120, -151, -56, -91, -19, -133, -82,
         -138, -68, -30, -115, -147, -45, -88, -25, -127, -73, 16, -108, -143, -38, -162, -6, -96, -52, -97, -18,
         -41, -185, -1, -93, -50, -103, -23, -131, -72, -27, -122, -153, -53, -84, -16, -135, -79, 11, -102, -149,
         -20, -124, -77, 22, -110, -141, -36, -168, -9, -99, -46, -94, -13, -134, -66, -34, -116, -145, -48, -92,
         -31, -112, -156, -43, -87, -11, -130, -81, 6, -106, -152, -40, -174, -3, -91, -55, -100, -19, -128, -75,
         -74, 17, -103, -144, -35, -160, -7, -95, -48, -96, -24, -137, -69, -29, -119, -148, -57, -90, -17, -126,
         -102, -16, -133, -73, -36, -114, -150, -46, -85, -23, -132, -78, 13, -108, -157, -43, -179, -5, -92, -51,
         -139, -39, -166, -2, -98, -53, -95, -10, -130, -67, -28, -121, -154, -50, -89, -15, -129, -83, 9, -105,
         -117, -146, -54, -93, -26, -123, -75, 19, -111, -148, -37, -172, -8, -90, -45, -99, -22, -135, -71, -32,
         -4, -97, -49, -104, -14, -127, -76, -30, -113, -152, -44, -86, -18, -136, -80, 12, -102, -142, -41, -163,
         -58, -91, -12, -128, -72, 21, -107, -155, -38, -181, -6, -94, -52, -97, -20, -139, -68, -34, -120, -149,
         -133, -79, 7, -104, -145, -42, -170, -1, -93, -47, -101, -17, -131, -74, -27, -115, -147, -45, -88, -24,
         -50, -96, -19, -134]
seg9a = [-60, -94, -42, -126, -67, -18, -85, -104, -51, -76, 77, -136, -47, -95, -65, -163, -12, -81, -112, -29,
         -58, -91, -15, -77, -123, -45, -99, 7, -68, -133, -39, -89, -151, -57, -111, -22, -76, -94, 29, -130,
         -53, -71, -114, -35, -89, -62, -144, -8, -80, -106, -44, -146, -55, -98, 20, -79, -120, -58, -232, -27,
         -64, -102, -50, -113, -38, -82, -139, -1, -76, -102, -48, -94, -182, -17, -73, -126, -58, -85, 65, -115,
         -39, -83, -98, -60, -144, -16, -77, -118, -54, -90, -33, -109, -61, 26, -87, -157, -56, -94, -141, -19,
         -65, -86, -46, -110, -37, -76, -135, -4, -88, -63, -114, -44, -97, -178, -55, -66, 58, -119, -29, -92,
         -55, -105, -34, -79, -148, -19, -73, -111, -47, -99, 13, -85, -132, -43, -70, -101, -30, -163, -58, -77,
         -41, -87, -124, -26, -70, -96, -60, -135, 52, -81, -111, -44, -67, -228, -39, -92, -64, -127, 35, -75,
         -55, -108, -33, -70, -93, -62]
seg9b = [-52, -99, -17, -131, -72, -30, -116, -150, -46, -88, -20, -127, -80, 15, -106, -145, -38, -168, -5, -93,
         -133, -75, 10, -110, -141, -42, -176, -2, -97, -47, -95, -13, -137, -68, -34, -121, -153, -55, -91, -24,
         -113, -148, -44, -86, -15, -125, -83, 19, -103, -157, -36, -163, -8, -90, -54, -102, -21, -128, -74, -27,
         -143, -40, -180, -3, -96, -49, -97, -11, -135, -69, -32, -119, -155, -57, -89, -22, -130, -77, 7, -108,
         -129, -71, -29, -114, -147, -45, -92, -13, -136, -79, 22, -105, -149, -37, -170, -6, -94, -51, -100, -18,
         -87, -19, -124, -73, 13, -109, -140, -43, -165, -1, -98, -46, -94, -25, -133, -66, -35, -120, -152, -53,
         -39, -174, -7, -91, -55, -103, -14, -138, -70, -31, -117, -146, -48, -90, -16, -128, -81, 9, -102, -154,
         -28, -112, -151, -47, -85, -23, -135, -76, 17, -107, -144, -41, -161, -4, -95, -50, -96, -21, -132, -75,
         -53, -98, -12, -130, -72, -33]
segments = [(seg1a, seg1b), (seg2a, seg2b), (seg3a, seg3b), (seg4a, seg4b), (seg5a, seg5b),
            (seg6a, seg6b), (seg7a, seg7b), (seg8a, seg8b), (seg9a, seg9b)]
neutral_cut = -61  # gamma*100 above this is neutral

pos_sel = [(530, 1.17), (910, 1.01), (1045, 1.49), (1435, 1.10), (2032, 0.90), (2764, 1.03), (3263, 1.14),
           (3267, 0.94), (3982, 1.29), (3974, 0.95), (4483, 1.32), (4529, 1.27), (5155, 1.55)]
neg_sel = [(-93, -1.44), (85, -0.65), (95, -1.12), (247, -1.32), (410, -1.32), (440, -1.52), (455, -1.54),
           (688, -2.01), (722, -2.49), (836, -3.53), (888, -4.21), (787, -1.32), (905, -1.32), (965, -1.50),
           (985, -1.47), (1008, -1.09), (1028, -0.75), (1050, -1.22), (1068, -2.21), (1103, -1.14), (1218, -3.11),
           (1208, -1.12), (1430, -4.77), (1340, -1.42), (1503, -2.31), (1568, -1.80), (1564, -1.02), (1710, -0.97),
           (1810, -1.12), (1864, -1.52), (1940, -1.40), (2007, -1.14), (2131, -3.03), (2141, -3.21), (2216, -1.85),
           (2230, -2.25), (2260, -1.85), (2309, -1.27), (2693, -1.95), (2848, -1.75), (2762, -4.07), (3011, -1.27),
           (3061, -1.97), (3101, -2.27), (3134, -1.49), (3160, -2.04), (3363, -1.72), (3479, -2.24), (3568, -3.51),
           (3588, -1.22), (3662, -1.72), (3664, -2.07), (3731, -1.27), (3823, -2.88), (3853, -2.69), (4010, -2.43),
           (4036, -0.82), (4155, -3.59), (4221, -3.98), (4165, -1.85), (4195, -1.44), (4215, -1.00), (4440, -1.57),
           (4448, -1.07), (4613, -2.99), (4623, -1.90), (4762, -0.72), (4812, -1.07), (4838, -1.47), (4822, -1.70),
           (4891, -2.09), (4931, -0.67), (4971, -2.12), (5080, -1.32), (5124, -2.88)]
c_yticks = [-5, -4, -3, -2, -1, 0, 1]
c_ytext = ["\u22125", "", "\u22123", "", "\u22121", "", "1"]

# ---------------- build figure ----------------
fig = go.Figure()

fig.add_trace(go.Bar(x=[b + bin_width / 2 for b in bin_left], y=bin_counts, width=bin_width,
                     marker=dict(color="#4163b0", line=dict(color="#1a1a1a", width=1)),
                     xaxis="x", yaxis="y", showlegend=False))
fig.add_trace(go.Scatter(x=sel_r, y=sel_freq, mode="markers", xaxis="x", yaxis="y", showlegend=False,
                         cliponaxis=False, marker=dict(color="#e8262b", size=13, line=dict(width=0))))

def unzip(p):
    return [a for a, _ in p], [b for _, b in p]

b_series = [("Constraint", pts_constraint, "#3b55ad"),
            ("Selection and Constraint", pts_sel_con, "#7d4ea6"),
            ("Selection", pts_selection, "#ee2222"),
            ("Neutral", pts_neutral, "#000000")]
for name, pts, col in b_series:
    xs, ys = unzip(pts)
    fig.add_trace(go.Scatter(x=xs, y=ys, mode="markers", name=name, xaxis="x2", yaxis="y2",
                             showlegend=False, cliponaxis=False,
                             marker=dict(symbol="diamond", size=8.5, color=col, line=dict(width=0))))

neu_x, neu_y, con_x, con_y = [], [], [], []
for (s0, s1), (va, vb) in zip(seg_bounds, segments):
    genes = [v for pair in zip(va, vb) for v in pair]
    n = len(genes)
    step = (s1 - s0) / n
    for i, v in enumerate(genes):
        xv = s0 + (i + 0.5) * step
        if v > neutral_cut:
            neu_x.append(xv); neu_y.append(v / 100)
        else:
            con_x.append(xv); con_y.append(v / 100)

px_, py_ = unzip(pos_sel)
nx_, ny_ = unzip(neg_sel)
c_series = [("neutral", neu_x, neu_y, "#d3d3d3"),
            ("constraint and selection", con_x, con_y, "#5b8b2e"),
            ("negative selection", nx_, ny_, "#3b5fcc"),
            ("positive selection", px_, py_, "#e0472a")]
for name, xs, ys, col in c_series:
    fig.add_trace(go.Scatter(x=xs, y=ys, mode="markers", name=name, xaxis="x3", yaxis="y3",
                             showlegend=False, cliponaxis=False,
                             marker=dict(symbol="circle", size=7, color=col, line=dict(width=0))))

tickfont = dict(family=SERIF, size=21, color="#1a1a1a")
common = dict(showgrid=False, zeroline=False, showline=False, ticks="outside", ticklen=7,
              tickwidth=1, tickcolor="#333333", tickmode="array")

fig.update_layout(
    xaxis=dict(domain=[fx(90), fx(645)], anchor="free", position=fy(255),
               range=[-0.0017188, 0.041641],
               tickvals=a_xticks, ticktext=a_xtext, tickfont=tickfont, ticklabelstandoff=4, **common),
    yaxis=dict(domain=[fy(255), fy(40)], range=[-49.5, 1280.4], anchor="free", position=fx(90),
               tickvals=a_yticks, ticktext=a_ytext, tickangle=-90, tickfont=tickfont, ticklabelstandoff=12, **common),
    xaxis2=dict(domain=[fx(748), 1.0], range=[-2.4345, 0.2173], anchor="free", position=fy(312),
                tickvals=b_xticks, ticktext=b_xtext, tickfont=tickfont, ticklabelstandoff=0, **common),
    yaxis2=dict(domain=[fy(312), fy(38)], range=[-3.015, 1.0899], anchor="free", position=fx(748),
                tickvals=b_yticks, ticktext=b_ytext, tickangle=-90, tickfont=tickfont, ticklabelstandoff=9, **common),
    xaxis3=dict(domain=[fx(96), 1.0], range=[-305, 5335], anchor="free", position=fy(672.7),
                tickvals=chr_pos, ticktext=["<i>%s</i>" % c for c in chr_names], tickangle=-57,
                tickfont=dict(family=SERIF, size=19, color="#1a1a1a"), ticklabelstandoff=5, **common),
    yaxis3=dict(domain=[fy(672.7), fy(435)], range=[-5.2806, 1.8149], anchor="free", position=fx(96),
                tickvals=c_yticks, ticktext=c_ytext, tickangle=-90, tickfont=tickfont, ticklabelstandoff=13, **common),
)

line_style = dict(color="#333333", width=1.3)
shapes = [
    dict(type="line", xref="x", yref="paper", x0=a_xticks[0], x1=a_xticks[-1], y0=fy(255), y1=fy(255), line=line_style),
    dict(type="line", xref="paper", yref="y", x0=fx(90), x1=fx(90), y0=a_yticks[0], y1=a_yticks[-1], line=line_style),
    dict(type="line", xref="x2", yref="paper", x0=b_xticks[0], x1=b_xticks[-1], y0=fy(312), y1=fy(312), line=line_style),
    dict(type="line", xref="paper", yref="y2", x0=fx(748), x1=fx(748), y0=b_yticks[0], y1=b_yticks[-1], line=line_style),
    dict(type="line", xref="x3", yref="paper", x0=chr_pos[0], x1=chr_pos[-1], y0=fy(672.7), y1=fy(672.7), line=line_style),
    dict(type="line", xref="paper", yref="y3", x0=fx(96), x1=fx(96), y0=c_yticks[0], y1=c_yticks[-1], line=line_style),
]

def ann(text, x, y, size, angle=0, xanchor="center", color="#1a1a1a", family=SERIF, align="center"):
    return dict(text=text, x=fx(x), y=fy(y), xref="paper", yref="paper", showarrow=False,
                xanchor=xanchor, yanchor="middle", textangle=angle, align=align,
                font=dict(family=family, size=size, color=color))

annotations = [
    ann("<b>(a)</b>", 25, 24, 21, family=SANS, color="#111111"),
    ann("<b>(b)</b>", 683, 24, 21, family=SANS, color="#111111"),
    ann("<b>(c)</b>", 29, 450, 21, family=SANS, color="#111111"),
    ann("r (ratio polymorphism to divergence)", 367, 323, 23.5),
    ann("Frequency (counts)", 24, 158, 31, angle=-90),
    ann("Constraint effect", 995, 364, 25),
    ann("Selection Effect", 697, 170, 30, angle=-90),
    ann("Chromosome position", 629, 765, 25.5),
    ann("\u03b3", 30, 552, 21, angle=-90),
    ann("genes under selection", 104, 212, 20, xanchor="left", color="#555555"),
    ann("reference<br>distribution", 535, 105, 20, xanchor="left", color="#555555", align="left"),
]

b_legend = [("Selection", "#ee2222", 18.5), ("Constraint", "#3b55ad", 41),
            ("Selection and Constraint", "#7d4ea6", 63), ("Neutral", "#000000", 86)]
for name, col, yy in b_legend:
    annotations.append(ann("\u25c6", 817, yy, 15, color=col, family="DejaVu Sans"))
    annotations.append(ann(name, 831 if name != "Neutral" else 835, yy, 19, xanchor="left"))

c_legend = [("positive selection", "#e0472a", 150, 166), ("negative selection", "#3b5fcc", 359, 375),
            ("constraint and selection", "#5b8b2e", 572, 588), ("neutral", "#d3d3d3", 832, 851)]
for name, col, xk, xt in c_legend:
    annotations.append(ann("\u25cf", xk, 417, 22, color=col, family="DejaVu Sans"))
    annotations.append(ann(name, xt, 417, 20, xanchor="left"))

fig.update_layout(
    width=W, height=H, margin=dict(l=0, r=0, t=0, b=0),
    paper_bgcolor="white", plot_bgcolor="rgba(0,0,0,0)",
    shapes=shapes, annotations=annotations, bargap=0, showlegend=False,
)

fig.write_html("out.html", config={"displayModeBar": False},
               post_script="document.body.style.margin='0px';")
